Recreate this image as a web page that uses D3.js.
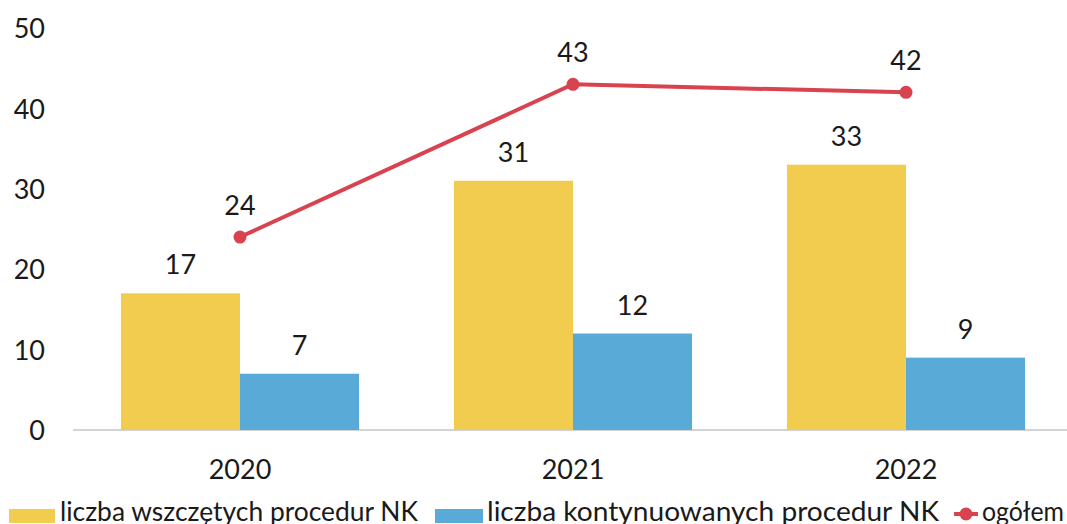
<!DOCTYPE html>
<html><head><meta charset="utf-8">
<script src="https://cdn.jsdelivr.net/npm/d3@7"></script>
<style>
html,body{margin:0;padding:0;background:#fff;}
svg text{font-family:"Lato","Open Sans",sans-serif;fill:#1a1a1a;}
</style></head>
<body><svg id="c" width="1067" height="524"></svg>
<script>
const years = ["2020", "2021", "2022"];
const started = [17, 31, 33];
const continued = [7, 12, 9];
const total = [24, 43, 42];
const yTicks = [0, 10, 20, 30, 40, 50];
const seriesNames = ["liczba wszczętych procedur NK", "liczba kontynuowanych procedur NK", "ogółem"];
const colors = {started: "#F2CC4F", continued: "#5AAAD8", total: "#D8434F"};

const svg = d3.select("#c");
const x0 = d3.scaleBand().domain(years).range([73.5, 1072.5]).paddingInner(0.285).paddingOuter(0.1425);
const x1 = d3.scaleBand().domain(["s", "c"]).range([0, x0.bandwidth()]);
const y = d3.scaleLinear().domain([0, 50]).range([430, 28]);

// baseline
svg.append("line").attr("x1", 73).attr("x2", 1067).attr("y1", y(0)).attr("y2", y(0))
  .attr("stroke", "#d4d4d4").attr("stroke-width", 2);

// y axis labels
const yAxis = d3.axisLeft(y).tickValues(yTicks).tickSize(0).tickPadding(0);
const ya = svg.append("g").attr("transform", "translate(45,0)").call(yAxis);
ya.select(".domain").remove();
ya.selectAll("text").attr("font-size", 27).attr("font-family", "Lato").attr("fill", "#1a1a1a").attr("dy", "0.36em");

// x axis labels
const xAxis = d3.axisBottom(x0).tickSize(0).tickPadding(0);
const xa = svg.append("g").attr("transform", "translate(0,479)").call(xAxis);
xa.select(".domain").remove();
xa.selectAll("text").attr("font-size", 27).attr("font-family", "Lato").attr("fill", "#1a1a1a").attr("dy", "0");

// bars
const g = svg.append("g");
years.forEach((yr, i) => {
  const gx = x0(yr);
  g.append("rect").attr("x", gx + x1("s")).attr("y", y(started[i])).attr("width", x1.bandwidth()).attr("height", y(0) - y(started[i])).attr("fill", colors.started);
  g.append("rect").attr("x", gx + x1("c")).attr("y", y(continued[i])).attr("width", x1.bandwidth()).attr("height", y(0) - y(continued[i])).attr("fill", colors.continued);
  g.append("text").attr("x", gx + x1("s") + x1.bandwidth() / 2).attr("y", y(started[i]) - 19).attr("text-anchor", "middle").attr("font-size", 27).text(started[i]);
  g.append("text").attr("x", gx + x1("c") + x1.bandwidth() / 2).attr("y", y(continued[i]) - 19).attr("text-anchor", "middle").attr("font-size", 27).text(continued[i]);
});

// line
const cx = yr => x0(yr) + x0.bandwidth() / 2;
const line = d3.line().x((d, i) => cx(years[i])).y(d => y(d));
svg.append("path").datum(total).attr("d", line).attr("fill", "none").attr("stroke", colors.total).attr("stroke-width", 4);
svg.selectAll("circle.pt").data(total).join("circle").attr("class", "pt")
  .attr("cx", (d, i) => cx(years[i])).attr("cy", d => y(d)).attr("r", 6.5).attr("fill", colors.total);
svg.selectAll("text.tl").data(total).join("text").attr("class", "tl")
  .attr("x", (d, i) => cx(years[i])).attr("y", d => y(d) - 22).attr("text-anchor", "middle").attr("font-size", 27).text(d => d);

// legend
const lg = svg.append("g");
lg.append("rect").attr("x", 9).attr("y", 509).attr("width", 46).attr("height", 14).attr("fill", colors.started);
lg.append("text").attr("x", 60).attr("y", 521).attr("font-size", 27).attr("textLength", 358).attr("lengthAdjust", "spacingAndGlyphs").text(seriesNames[0]);
lg.append("rect").attr("x", 435).attr("y", 509).attr("width", 48).attr("height", 14).attr("fill", colors.continued);
lg.append("text").attr("x", 487).attr("y", 521).attr("font-size", 27).attr("textLength", 452).attr("lengthAdjust", "spacingAndGlyphs").text(seriesNames[1]);
lg.append("line").attr("x1", 954).attr("x2", 978).attr("y1", 514).attr("y2", 514).attr("stroke", colors.total).attr("stroke-width", 4);
lg.append("circle").attr("cx", 966).attr("cy", 514).attr("r", 6.5).attr("fill", colors.total);
lg.append("text").attr("x", 982).attr("y", 521).attr("font-size", 27).attr("textLength", 82).attr("lengthAdjust", "spacingAndGlyphs").text(seriesNames[2]);
</script></body></html>
